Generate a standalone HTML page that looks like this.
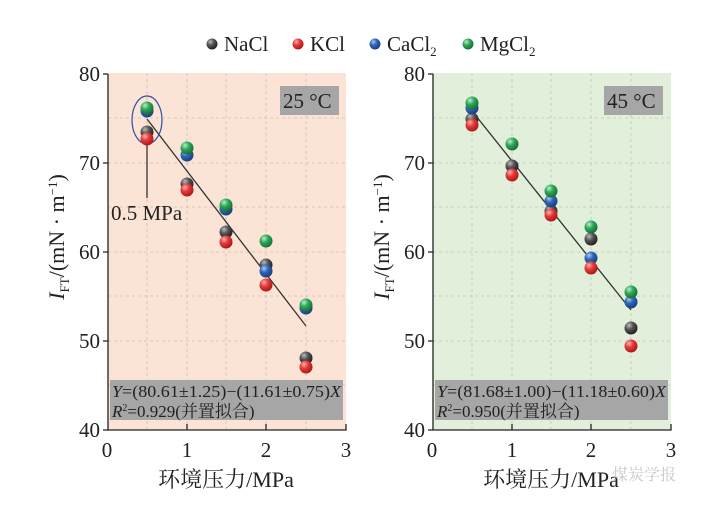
<!DOCTYPE html>
<html><head><meta charset="utf-8"><style>
html,body{margin:0;padding:0;background:#fff;}
svg{display:block;}
text{font-family:"Liberation Serif","Noto Serif CJK SC",serif;fill:#222;}
</style></head><body>
<svg width="702" height="505" viewBox="0 0 702 505" xmlns="http://www.w3.org/2000/svg">
<defs>
<radialGradient id="gk" cx="35%" cy="30%" r="70%"><stop offset="0" stop-color="#bbb"/><stop offset="0.45" stop-color="#555"/><stop offset="1" stop-color="#222"/></radialGradient>
<radialGradient id="gr" cx="35%" cy="30%" r="70%"><stop offset="0" stop-color="#ffb0b0"/><stop offset="0.45" stop-color="#e43a3a"/><stop offset="1" stop-color="#b01818"/></radialGradient>
<radialGradient id="gb" cx="35%" cy="30%" r="70%"><stop offset="0" stop-color="#a8c8f0"/><stop offset="0.45" stop-color="#2f66b8"/><stop offset="1" stop-color="#1a3f80"/></radialGradient>
<radialGradient id="gg" cx="35%" cy="30%" r="70%"><stop offset="0" stop-color="#b8f0c8"/><stop offset="0.45" stop-color="#2fa85a"/><stop offset="1" stop-color="#187038"/></radialGradient>
</defs>

<!-- legend -->
<circle cx="212" cy="44" r="5.5" fill="url(#gk)"/><text x="224" y="51" font-size="21">NaCl</text>
<circle cx="298" cy="44" r="5.5" fill="url(#gr)"/><text x="310" y="51" font-size="21">KCl</text>
<circle cx="375" cy="44" r="5.5" fill="url(#gb)"/><text x="387" y="51" font-size="21">CaCl<tspan font-size="13" dy="5">2</tspan></text>
<circle cx="468" cy="44" r="5.5" fill="url(#gg)"/><text x="480" y="51" font-size="21">MgCl<tspan font-size="13" dy="5">2</tspan></text>

<!-- LEFT PANEL -->
<rect x="108" y="73" width="238" height="357" fill="#fbe4d5"/>
<g stroke="#c8c0b8" stroke-width="0.8" stroke-dasharray="3,3">
<line x1="147" y1="73" x2="147" y2="430"/><line x1="187" y1="73" x2="187" y2="430"/><line x1="226" y1="73" x2="226" y2="430"/><line x1="266" y1="73" x2="266" y2="430"/><line x1="306" y1="73" x2="306" y2="430"/>
<line x1="108" y1="118" x2="346" y2="118"/><line x1="108" y1="163" x2="346" y2="163"/><line x1="108" y1="207" x2="346" y2="207"/><line x1="108" y1="252" x2="346" y2="252"/><line x1="108" y1="296" x2="346" y2="296"/><line x1="108" y1="341" x2="346" y2="341"/><line x1="108" y1="385" x2="346" y2="385"/>
</g>
<rect x="110" y="380" width="233" height="40" fill="#a6a6a6"/>
<text x="112" y="397" font-size="17" textLength="229" lengthAdjust="spacingAndGlyphs"><tspan font-style="italic">Y</tspan>=(80.61±1.25)−(11.61±0.75)<tspan font-style="italic">X</tspan></text>
<text x="112" y="417" font-size="17"><tspan font-style="italic">R</tspan><tspan font-size="10" dy="-6">2</tspan><tspan dy="6">=0.929(并置拟合)</tspan></text>
<rect x="280" y="86" width="59" height="29" fill="#a6a6a6"/>
<text x="283" y="108" font-size="21">25 °C</text>
<g fill="none" stroke="#222" stroke-width="1.3">
<path d="M108 74 V430 H346 V424"/>
<path d="M103 74H108M103 163H108M103 252H108M103 341H108M103 430H108M187 430V424M266 430V424"/>
</g>
<line x1="147" y1="119" x2="306" y2="326" stroke="#333" stroke-width="1.3"/>
<ellipse cx="147" cy="120" rx="15" ry="24" fill="none" stroke="#3050a0" stroke-width="1.2"/>
<line x1="147" y1="144" x2="147" y2="198" stroke="#333" stroke-width="1.3"/>
<text x="111" y="220" font-size="21">0.5 MPa</text>
<g>
<circle cx="147" cy="132" r="6.5" fill="url(#gk)"/><circle cx="147" cy="139" r="6.5" fill="url(#gr)"/>
<circle cx="147" cy="111" r="6.5" fill="url(#gb)"/><circle cx="147" cy="108" r="6.5" fill="url(#gg)"/>
<circle cx="187" cy="184" r="6.5" fill="url(#gk)"/><circle cx="187" cy="190" r="6.5" fill="url(#gr)"/>
<circle cx="187" cy="155" r="6.5" fill="url(#gb)"/><circle cx="187" cy="148" r="6.5" fill="url(#gg)"/>
<circle cx="226" cy="232" r="6.5" fill="url(#gk)"/><circle cx="226" cy="242" r="6.5" fill="url(#gr)"/>
<circle cx="226" cy="209" r="6.5" fill="url(#gb)"/><circle cx="226" cy="205" r="6.5" fill="url(#gg)"/>
<circle cx="266" cy="265" r="6.5" fill="url(#gk)"/><circle cx="266" cy="271" r="6.5" fill="url(#gb)"/>
<circle cx="266" cy="285" r="6.5" fill="url(#gr)"/><circle cx="266" cy="241" r="6.5" fill="url(#gg)"/>
<circle cx="306" cy="308" r="6.5" fill="url(#gb)"/><circle cx="306" cy="305" r="6.5" fill="url(#gg)"/>
<circle cx="306" cy="358" r="6.5" fill="url(#gk)"/><circle cx="306" cy="367" r="6.5" fill="url(#gr)"/>
</g>
<g font-size="21" text-anchor="end">
<text x="100" y="81">80</text><text x="100" y="170">70</text><text x="100" y="259">60</text><text x="100" y="348">50</text><text x="100" y="437">40</text>
</g>
<g font-size="21" text-anchor="middle">
<text x="107" y="457">0</text><text x="187" y="457">1</text><text x="266" y="457">2</text><text x="346" y="457">3</text>
</g>
<text x="226" y="487" font-size="22" text-anchor="middle">环境压力/MPa</text>
<text transform="translate(64,237) rotate(-90)" font-size="22" text-anchor="middle"><tspan font-style="italic">I</tspan><tspan font-size="13" dy="5">FT</tspan><tspan dy="-5">/(mN · m</tspan><tspan font-size="13" dy="-7">−1</tspan><tspan dy="7">)</tspan></text>

<!-- RIGHT PANEL -->
<rect x="433" y="73" width="238" height="357" fill="#e2efda"/>
<g stroke="#c0c8bc" stroke-width="0.8" stroke-dasharray="3,3">
<line x1="472" y1="73" x2="472" y2="430"/><line x1="512" y1="73" x2="512" y2="430"/><line x1="551" y1="73" x2="551" y2="430"/><line x1="591" y1="73" x2="591" y2="430"/><line x1="631" y1="73" x2="631" y2="430"/>
<line x1="433" y1="118" x2="671" y2="118"/><line x1="433" y1="163" x2="671" y2="163"/><line x1="433" y1="207" x2="671" y2="207"/><line x1="433" y1="252" x2="671" y2="252"/><line x1="433" y1="296" x2="671" y2="296"/><line x1="433" y1="341" x2="671" y2="341"/><line x1="433" y1="385" x2="671" y2="385"/>
</g>
<rect x="435" y="380" width="233" height="40" fill="#a6a6a6"/>
<text x="437" y="397" font-size="17" textLength="229" lengthAdjust="spacingAndGlyphs"><tspan font-style="italic">Y</tspan>=(81.68±1.00)−(11.18±0.60)<tspan font-style="italic">X</tspan></text>
<text x="437" y="417" font-size="17"><tspan font-style="italic">R</tspan><tspan font-size="10" dy="-6">2</tspan><tspan dy="6">=0.950(并置拟合)</tspan></text>
<rect x="604" y="86" width="59" height="29" fill="#a6a6a6"/>
<text x="607" y="108" font-size="21">45 °C</text>
<g fill="none" stroke="#222" stroke-width="1.3">
<path d="M433 74 V430 H671 V424"/>
<path d="M428 74H433M428 163H433M428 252H433M428 341H433M428 430H433M512 430V424M591 430V424"/>
</g>
<line x1="472" y1="111" x2="631" y2="310" stroke="#333" stroke-width="1.3"/>
<g>
<circle cx="472" cy="119" r="6.5" fill="url(#gk)"/><circle cx="472" cy="125" r="6.5" fill="url(#gr)"/>
<circle cx="472" cy="108" r="6.5" fill="url(#gb)"/><circle cx="472" cy="103" r="6.5" fill="url(#gg)"/>
<circle cx="512" cy="166" r="6.5" fill="url(#gk)"/><circle cx="512" cy="175" r="6.5" fill="url(#gr)"/>
<circle cx="512" cy="144" r="6.5" fill="url(#gg)"/>
<circle cx="551" cy="211" r="6.5" fill="url(#gk)"/><circle cx="551" cy="215" r="6.5" fill="url(#gr)"/>
<circle cx="551" cy="201" r="6.5" fill="url(#gb)"/><circle cx="551" cy="191" r="6.5" fill="url(#gg)"/>
<circle cx="591" cy="239" r="6.5" fill="url(#gk)"/><circle cx="591" cy="258" r="6.5" fill="url(#gb)"/>
<circle cx="591" cy="268" r="6.5" fill="url(#gr)"/><circle cx="591" cy="227" r="6.5" fill="url(#gg)"/>
<circle cx="631" cy="302" r="6.5" fill="url(#gb)"/><circle cx="631" cy="292" r="6.5" fill="url(#gg)"/>
<circle cx="631" cy="328" r="6.5" fill="url(#gk)"/><circle cx="631" cy="346" r="6.5" fill="url(#gr)"/>
</g>
<g font-size="21" text-anchor="end">
<text x="425" y="81">80</text><text x="425" y="170">70</text><text x="425" y="259">60</text><text x="425" y="348">50</text><text x="425" y="437">40</text>
</g>
<g font-size="21" text-anchor="middle">
<text x="432" y="457">0</text><text x="512" y="457">1</text><text x="591" y="457">2</text><text x="671" y="457">3</text>
</g>
<text x="551" y="487" font-size="22" text-anchor="middle">环境压力/MPa</text>
<text x="612" y="480" font-size="16" style="fill:#c8c8c8">煤炭学报</text>
<text transform="translate(389,237) rotate(-90)" font-size="22" text-anchor="middle"><tspan font-style="italic">I</tspan><tspan font-size="13" dy="5">FT</tspan><tspan dy="-5">/(mN · m</tspan><tspan font-size="13" dy="-7">−1</tspan><tspan dy="7">)</tspan></text>
</svg>
</body></html>
